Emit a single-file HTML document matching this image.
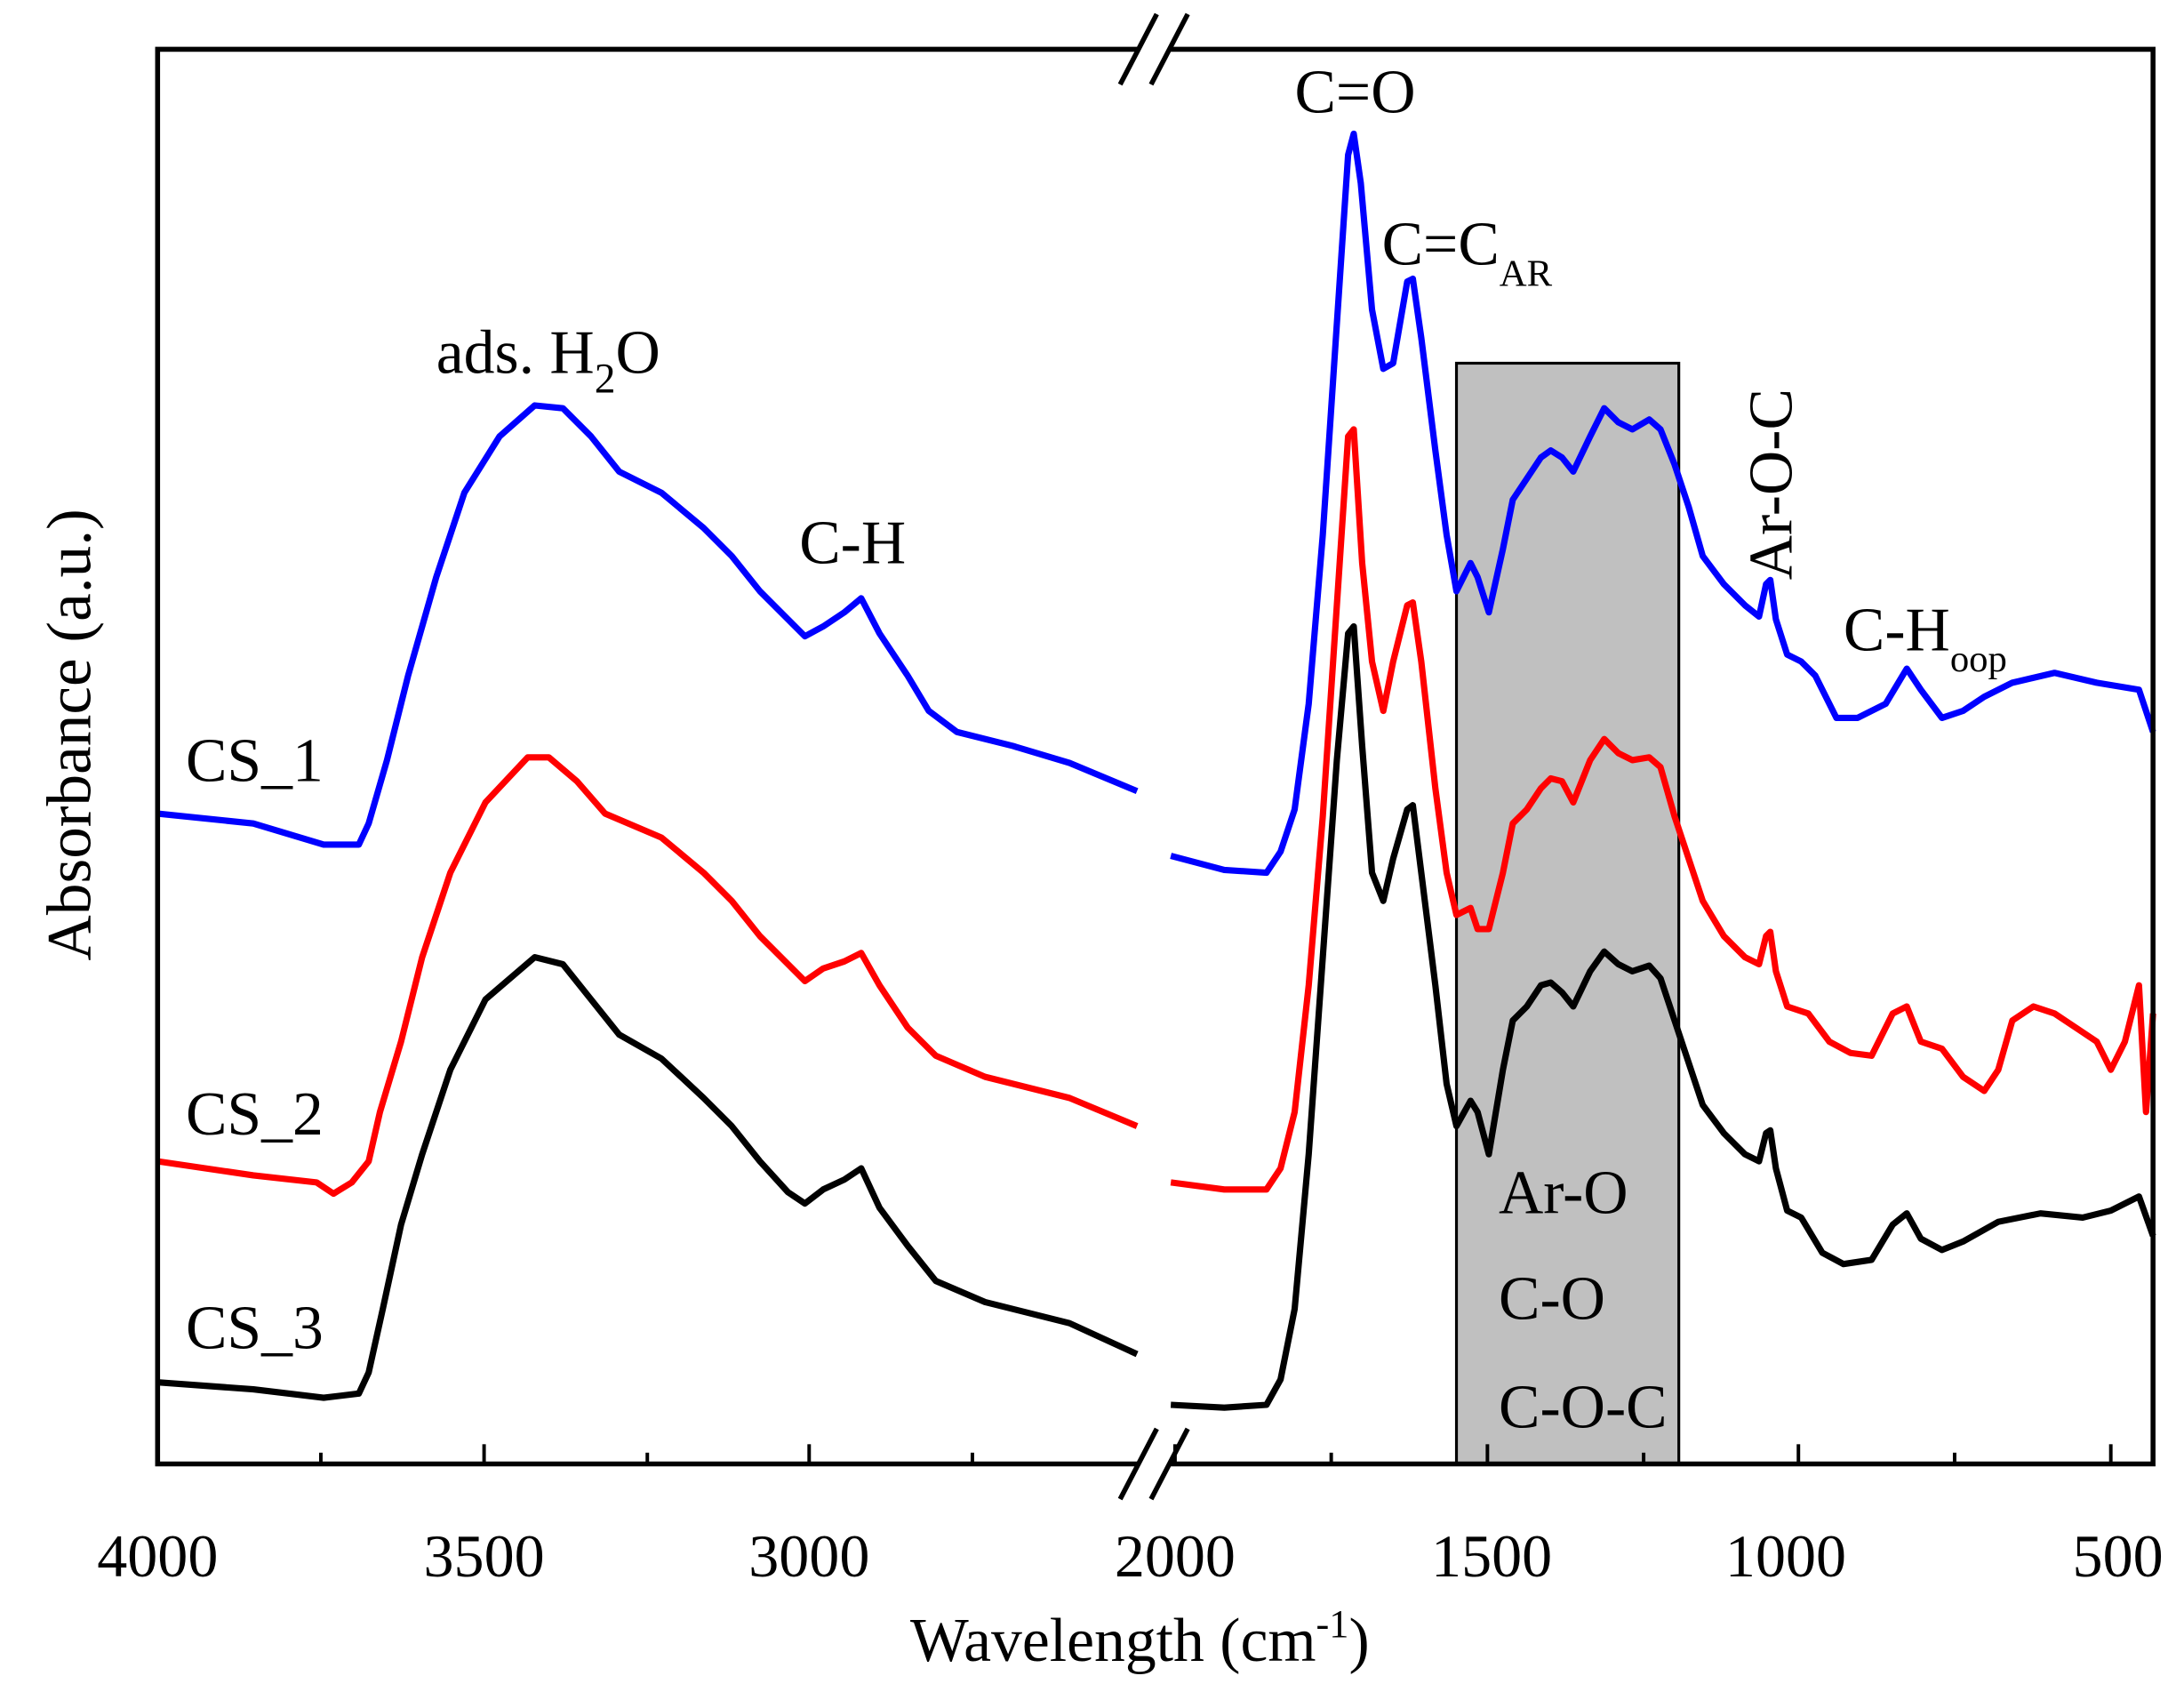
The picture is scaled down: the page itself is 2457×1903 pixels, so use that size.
<!DOCTYPE html>
<html><head><style>html,body{margin:0;padding:0;background:#fff}svg{display:block}</style></head>
<body>
<svg width="2457" height="1903" viewBox="0 0 1552 1202" xmlns="http://www.w3.org/2000/svg" font-family="Liberation Serif, serif">
<rect x="1035" y="258" width="158" height="782" fill="#c0c0c0" stroke="#000" stroke-width="2"/>
<g fill="none" stroke-width="4.5" stroke-linejoin="round">
<polyline stroke="#0000ff" points="112,578 180,585 230,600 255,600 262,585 275,540 290,480 310,410 330,350 355,310 380,288 400,290 420,310 440,335 470,350 500,375 520,395 540,420 560,440 572,452 585,445 600,435 612,425 625,450 645,480 660,505 680,520 720,530 760,542 808,562"/>
<polyline stroke="#ff0000" points="112,825 180,835 225,840 237,848 250,840 262,825 270,790 285,740 300,680 320,620 345,570 375,538 390,538 410,555 430,578 470,595 500,620 520,640 540,665 560,685 572,697 585,688 600,683 612,677 625,700 645,730 665,750 700,765 760,780 808,800"/>
<polyline stroke="#000" points="112,982 180,987 230,993 255,990 262,975 272,930 285,870 300,820 320,760 345,710 380,680 400,685 420,710 440,735 470,752 500,780 520,800 540,825 560,847 572,855 585,845 600,838 612,830 625,858 645,885 665,910 700,925 760,940 808,962"/>
<polyline stroke="#0000ff" points="832,608 870,618 900,620 910,605 920,575 930,500 940,380 950,230 958,110 962,95 967,130 975,220 983,262 990,258 1000,200 1004,198 1010,240 1020,320 1028,380 1035,420 1040,410 1045,400 1050,410 1058,435 1068,390 1075,355 1085,340 1095,325 1102,320 1110,325 1118,335 1130,310 1140,290 1150,300 1160,305 1172,298 1180,305 1190,330 1200,360 1210,395 1225,415 1240,430 1250,438 1255,415 1258,412 1262,440 1270,465 1280,470 1290,480 1305,510 1320,510 1340,500 1355,475 1365,490 1380,510 1395,505 1410,495 1430,485 1460,478 1490,485 1520,490 1530,520"/>
<polyline stroke="#ff0000" points="832,840 870,845 900,845 910,830 920,790 930,700 940,580 950,430 958,310 962,305 968,400 975,470 983,505 990,470 1000,430 1004,428 1010,470 1020,560 1028,620 1035,650 1045,645 1050,660 1058,660 1068,620 1075,585 1085,575 1095,560 1102,553 1110,555 1118,570 1130,540 1140,525 1150,535 1160,540 1172,538 1180,545 1190,580 1200,610 1210,640 1225,665 1240,680 1250,685 1255,665 1258,662 1262,690 1270,715 1285,720 1300,740 1315,748 1330,750 1345,720 1355,715 1365,740 1380,745 1395,765 1410,775 1420,760 1430,725 1445,715 1460,720 1475,730 1490,740 1500,760 1510,740 1520,700 1525,790 1530,720"/>
<polyline stroke="#000" points="832,998 870,1000 900,998 910,980 920,930 930,820 940,680 950,540 958,450 962,445 968,530 975,620 983,640 990,610 1000,575 1004,572 1010,620 1020,700 1028,770 1035,800 1045,782 1050,790 1058,820 1068,760 1075,725 1085,715 1095,700 1102,698 1110,705 1118,715 1130,690 1140,676 1150,685 1160,690 1172,686 1180,695 1190,725 1200,755 1210,785 1225,805 1240,820 1250,825 1255,805 1258,803 1262,830 1270,860 1280,865 1295,890 1310,898 1330,895 1345,870 1355,862 1365,880 1380,888 1395,882 1420,868 1450,862 1480,865 1500,860 1520,850 1530,878"/>
</g>
<g stroke="#000" stroke-width="3.5" fill="none">
<polyline points="808,35 112,35 112,1040 808,1040"/>
<polyline points="832,35 1530,35 1530,1040 832,1040"/>
<line x1="796" y1="60" x2="822" y2="10"/><line x1="818" y1="60" x2="844" y2="10"/>
<line x1="796" y1="1065" x2="822" y2="1015"/><line x1="818" y1="1065" x2="844" y2="1015"/>
<g stroke-width="2.5">
<line x1="112" y1="1040" x2="112" y2="1026"/><line x1="344" y1="1040" x2="344" y2="1026"/><line x1="575" y1="1040" x2="575" y2="1026"/>
<line x1="228" y1="1040" x2="228" y2="1032"/><line x1="460" y1="1040" x2="460" y2="1032"/><line x1="691" y1="1040" x2="691" y2="1032"/>
<line x1="835" y1="1040" x2="835" y2="1026"/><line x1="1057" y1="1040" x2="1057" y2="1026"/><line x1="1278" y1="1040" x2="1278" y2="1026"/><line x1="1500" y1="1040" x2="1500" y2="1026"/>
<line x1="946" y1="1040" x2="946" y2="1032"/><line x1="1168" y1="1040" x2="1168" y2="1032"/><line x1="1389" y1="1040" x2="1389" y2="1032"/>
</g>
</g>
<g font-size="43" text-anchor="middle" fill="#000">
<text x="112" y="1120">4000</text><text x="344" y="1120">3500</text><text x="575" y="1120">3000</text>
<text x="835" y="1120">2000</text><text x="1060" y="1120">1500</text><text x="1269" y="1120">1000</text><text x="1505" y="1120">500</text>
<text x="810" y="1180" font-size="44">Wavelength (cm<tspan font-size="28" dy="-17">-1</tspan><tspan dy="17">)</tspan></text>
<text transform="translate(64,522) rotate(-90)" font-size="45">Absorbance (a.u.)</text>
</g>
<g font-size="44" fill="#000">
<text x="132" y="555">CS_1</text><text x="132" y="806">CS_2</text><text x="132" y="958">CS_3</text>
<text x="310" y="265">ads. H<tspan font-size="30" dy="14">2</tspan><tspan dy="-14">O</tspan></text>
<text x="568" y="400">C-H</text>
<text x="920" y="80">C=O</text>
<text x="982" y="188">C=C<tspan font-size="27" dy="15">AR</tspan></text>
<text transform="translate(1273,412) rotate(-90)">Ar-O-C</text>
<text x="1310" y="462">C-H<tspan font-size="27" dy="15">oop</tspan></text>
<text x="1065" y="862">Ar-O</text><text x="1065" y="937">C-O</text><text x="1065" y="1014">C-O-C</text>
</g>
</svg>
</body></html>
